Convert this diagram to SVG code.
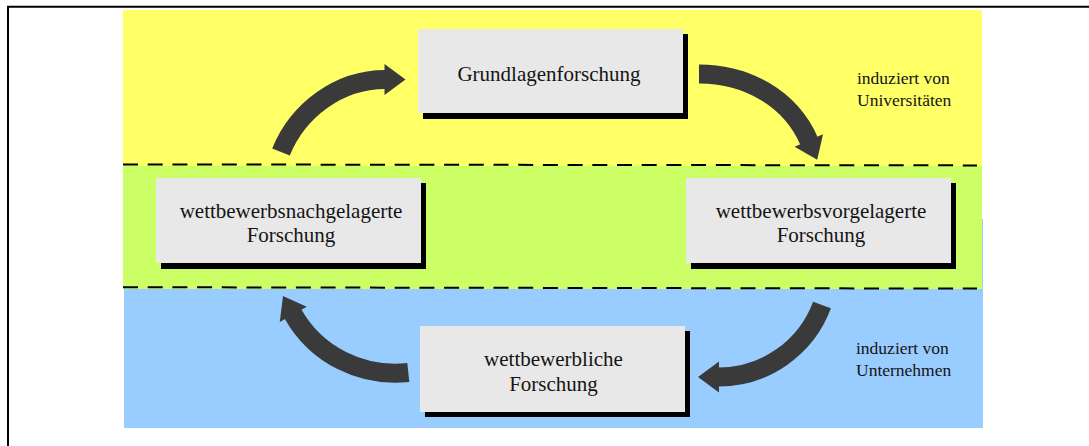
<svg xmlns="http://www.w3.org/2000/svg" width="1089" height="446" viewBox="0 0 1089 446">
  <style>
    .box { fill: #e8e8e8; }
    .shadow { fill: #000000; }
    .node-text { font-family: "Liberation Serif", "Times New Roman", serif; font-size: 21px; fill: #141414; text-anchor: middle; }
    .note { font-family: "Liberation Serif", "Times New Roman", serif; font-size: 17.5px; fill: #141414; }
    .divider { fill: none; stroke: #000000; stroke-width: 2; stroke-dasharray: 15 9.7; }
    .flow { fill: none; stroke: #3a3a3a; stroke-width: 19; stroke-linecap: butt; marker-end: url(#head); }
  </style>
  <defs>
    <marker id="head" markerUnits="userSpaceOnUse" viewBox="0 0 21 31" markerWidth="21" markerHeight="31" refX="0.5" refY="15.5" orient="auto" overflow="visible">
      <path d="M0,0 L21,15.5 L0,31 Z" fill="#3a3a3a"/>
    </marker>
  </defs>

  <rect width="1089" height="446" fill="#ffffff"/>

  <!-- frame -->
  <path d="M8,446 V6.7 H1089" fill="none" stroke="#000000" stroke-width="2"/>

  <!-- bands -->
  <g id="bands">
    <rect x="123" y="10" width="859" height="156" fill="#ffff66"/>
    <rect x="123" y="166" width="859" height="123" fill="#ccff66"/>
    <rect x="124" y="289" width="859" height="139" fill="#99ccff"/>
    <rect x="982" y="219" width="1" height="70" fill="#99ccff"/>
    <path class="divider" d="M123,164.4 L977,165.4"/>
    <path class="divider" d="M123,287.2 L977,288.6"/>
  </g>

  <!-- connectors -->
  <g id="connectors">
    <path class="flow" d="M281,152 C298,110 339,79.5 385,79.5"/>
    <path class="flow" d="M699,74 C746,74 790,97.6 809,141"/>
    <path class="flow" d="M822,305 C806,348 765,377 718.5,377"/>
    <path class="flow" d="M408.3,372.5 C361.6,377.6 316,355 293,314"/>
  </g>

  <g id="node-grundlagen">
    <rect class="shadow" x="423" y="34" width="265" height="85"/>
    <rect class="box" x="418" y="29" width="265" height="84"/>
    <text class="node-text" x="549" y="81">Grundlagenforschung</text>
  </g>

  <g id="node-nachgelagert">
    <rect class="shadow" x="161" y="183" width="265" height="86"/>
    <rect class="box" x="156" y="178" width="265" height="85"/>
    <text class="node-text" x="291" y="217.7">wettbewerbsnachgelagerte</text>
    <text class="node-text" x="291" y="242.3">Forschung</text>
  </g>

  <g id="node-vorgelagert">
    <rect class="shadow" x="691" y="183" width="265" height="86"/>
    <rect class="box" x="686" y="178" width="265" height="85"/>
    <text class="node-text" x="821" y="217.7">wettbewerbsvorgelagerte</text>
    <text class="node-text" x="821" y="242.3">Forschung</text>
  </g>

  <g id="node-wettbewerblich">
    <rect class="shadow" x="425" y="331" width="265" height="86"/>
    <rect class="box" x="420" y="326" width="265" height="86"/>
    <text class="node-text" x="553.5" y="366">wettbewerbliche</text>
    <text class="node-text" x="553.5" y="391">Forschung</text>
  </g>

  <g id="note-universities">
    <text class="note" x="857" y="84">induziert von</text>
    <text class="note" x="857" y="106">Universitäten</text>
  </g>

  <g id="note-companies">
    <text class="note" x="856" y="354">induziert von</text>
    <text class="note" x="856" y="376">Unternehmen</text>
  </g>
</svg>
